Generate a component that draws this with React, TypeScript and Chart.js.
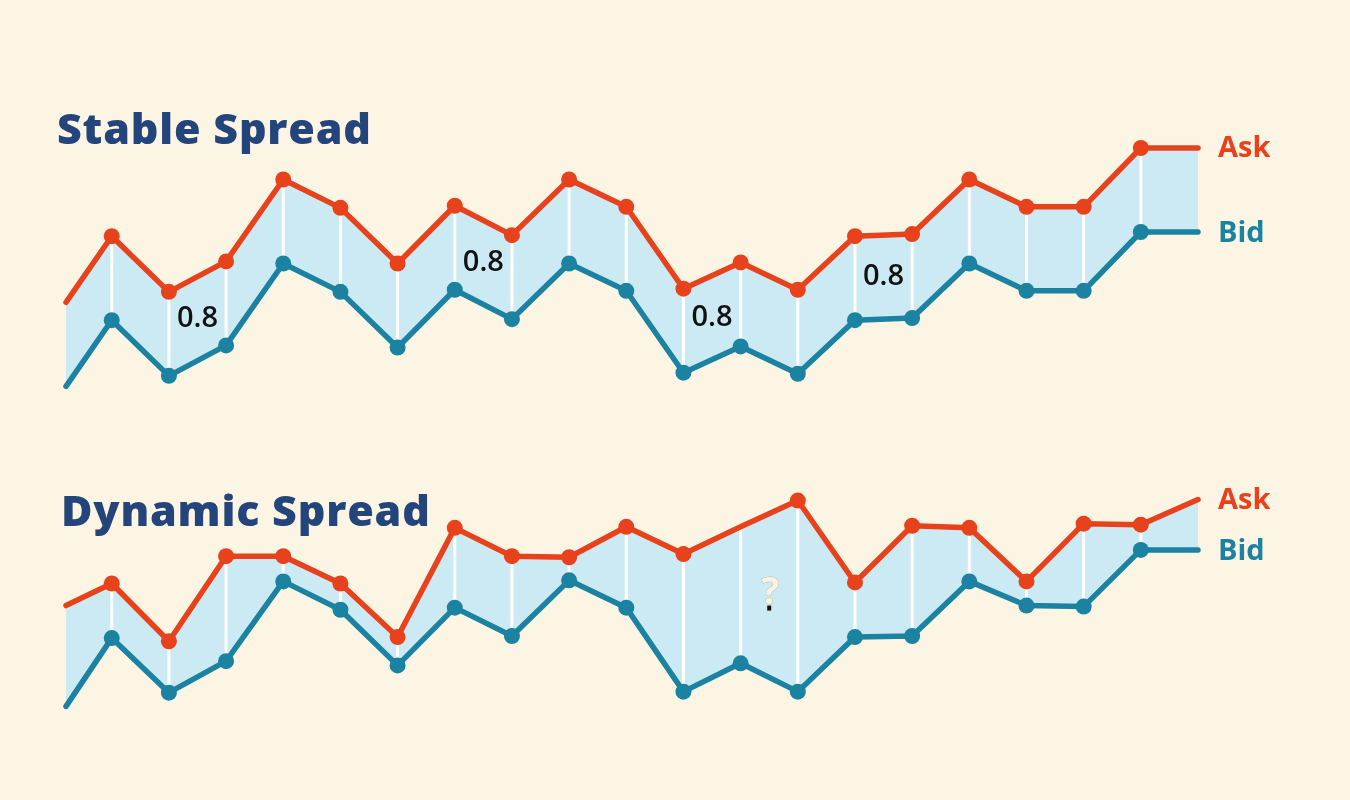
import React, { useEffect, useRef } from "react";
import { Chart, registerables } from "chart.js";

Chart.register(...registerables);

// time steps (first point is partially visible at the left edge)
const times = [0.2, 1, 2, 3, 4, 5, 6, 7, 8, 9, 10, 11, 12, 13, 14, 15, 16, 17, 18, 19, 20];

// Stable spread prices
const stableAsk = [0.93, 1.56, 1.03, 1.32, 2.1, 1.83, 1.3, 1.85, 1.57, 2.1, 1.84, 1.06, 1.31, 1.05, 1.56, 1.58, 2.1, 1.84, 1.84, 2.4, 2.4];
const stableBid = [0.13, 0.76, 0.23, 0.52, 1.3, 1.03, 0.5, 1.05, 0.77, 1.3, 1.04, 0.26, 0.51, 0.25, 0.76, 0.78, 1.3, 1.04, 1.04, 1.6, 1.6];

// Dynamic spread prices
const dynamicAsk = [1.09, 1.3, 0.75, 1.56, 1.56, 1.3, 0.79, 1.83, 1.56, 1.55, 1.84, 1.58, 1.84, 2.09, 1.31, 1.85, 1.83, 1.32, 1.87, 1.86, 2.1];
const dynamicBid = [0.13, 0.78, 0.26, 0.56, 1.32, 1.05, 0.52, 1.07, 0.8, 1.33, 1.07, 0.27, 0.54, 0.27, 0.79, 0.8, 1.32, 1.09, 1.08, 1.62, 1.62];

// spread annotations (position along time axis, text)
const stableNoteAt = [2.5, 7.5, 11.5, 14.5];
const stableNoteText = ["0.8", "0.8", "0.8", "0.8"];
const dynamicNoteAt = [12.5];
const dynamicNoteText = ["?"];

// indices of ask points drawn without a marker
const dynamicAskNoMarker = [12];

const seriesNames = ["Ask", "Bid"];
const titles = ["Stable Spread", "Dynamic Spread"];

const BG = "#fdf5e4";
const ASK = "#e8421d";
const BID = "#1b82a1";
const FILL = "#cceaf3";
const TITLE = "#23457c";

function interp(arr: number[], p: number) {
  for (let i = 0; i < times.length - 1; i++) {
    if (p >= times[i] && p <= times[i + 1]) {
      const f = (p - times[i]) / (times[i + 1] - times[i]);
      return arr[i] + (arr[i + 1] - arr[i]) * f;
    }
  }
  return arr[arr.length - 1];
}

type Props = {
  top: number;
  height: number;
  padTop: number;
  padBottom: number;
  ask: number[];
  bid: number[];
  noAskMarker: number[];
  noteAt: number[];
  noteText: string[];
  question?: boolean;
};

function SpreadChart(props: Props) {
  const ref = useRef<HTMLCanvasElement>(null);
  useEffect(() => {
    const { ask, bid, noAskMarker, noteAt, noteText, question } = props;
    const last = times.length - 1;
    const overlay = {
      id: "overlay",
      beforeDatasetsDraw(chart: any) {
        const { ctx } = chart;
        const x = chart.scales.x;
        const y = chart.scales.y;
        ctx.save();
        ctx.strokeStyle = "#ffffff";
        ctx.lineWidth = 3;
        for (let i = 1; i < last; i++) {
          const px = x.getPixelForValue(times[i]);
          ctx.beginPath();
          ctx.moveTo(px, y.getPixelForValue(ask[i]));
          ctx.lineTo(px, y.getPixelForValue(bid[i]));
          ctx.stroke();
        }
        ctx.restore();
      },
      afterDatasetsDraw(chart: any) {
        const { ctx } = chart;
        const x = chart.scales.x;
        const y = chart.scales.y;
        ctx.save();
        // series labels
        ctx.font = "700 29px 'Open Sans'";
        ctx.textAlign = "left";
        ctx.textBaseline = "middle";
        const lx = x.getPixelForValue(times[last]) + 20;
        ctx.fillStyle = ASK;
        ctx.fillText(seriesNames[0], lx, y.getPixelForValue(ask[last]) + 1);
        ctx.fillStyle = BID;
        ctx.fillText(seriesNames[1], lx, y.getPixelForValue(bid[last]) + 2);
        // spread notes
        noteAt.forEach((p, k) => {
          const px = x.getPixelForValue(p);
          const py = y.getPixelForValue((interp(ask, p) + interp(bid, p)) / 2);
          if (question) {
            ctx.font = "700 38px 'Open Sans'";
            ctx.textAlign = "center";
            ctx.textBaseline = "middle";
            ctx.fillStyle = "#fbf3df";
            ctx.strokeStyle = "rgba(150,140,120,0.45)";
            ctx.lineWidth = 1;
            ctx.strokeText(noteText[k], px + 1, py - 2);
            ctx.fillText(noteText[k], px + 1, py - 2);
            ctx.fillStyle = "#111111";
            ctx.fillRect(px - 2, py + 10, 4, 5);
          } else {
            ctx.font = "600 29px 'Open Sans'";
            ctx.textAlign = "center";
            ctx.textBaseline = "middle";
            ctx.fillStyle = "#111111";
            ctx.fillText(noteText[k], px, py);
          }
        });
        ctx.restore();
      },
    };
    const radius = (hidden: number[]) => (c: any) =>
      c.dataIndex === 0 || c.dataIndex === last || hidden.includes(c.dataIndex) ? 0 : 8;
    const chart = new Chart(ref.current as HTMLCanvasElement, {
      type: "line",
      data: {
        datasets: [
          {
            label: seriesNames[0],
            data: times.map((t, i) => ({ x: t, y: ask[i] })),
            borderColor: ASK,
            backgroundColor: FILL,
            fill: "+1",
            pointBackgroundColor: ASK,
            pointBorderColor: ASK,
            pointBorderWidth: 0,
            pointRadius: radius(noAskMarker),
            borderWidth: 5.5,
            tension: 0,
            borderCapStyle: "round",
            borderJoinStyle: "round",
            clip: false,
          } as any,
          {
            label: seriesNames[1],
            data: times.map((t, i) => ({ x: t, y: bid[i] })),
            borderColor: BID,
            backgroundColor: FILL,
            fill: false,
            pointBackgroundColor: BID,
            pointBorderColor: BID,
            pointBorderWidth: 0,
            pointRadius: radius([]),
            borderWidth: 5.5,
            tension: 0,
            borderCapStyle: "round",
            borderJoinStyle: "round",
            clip: false,
          } as any,
        ],
      },
      options: {
        animation: false,
        responsive: false,
        events: [],
        layout: { padding: { left: 66, right: 152, top: props.padTop, bottom: props.padBottom } },
        scales: {
          x: { type: "linear", min: 0.2, max: 20, display: false },
          y: { min: 0, max: 3, display: false },
        },
        plugins: {
          legend: { display: false },
          tooltip: { enabled: false },
          filler: { drawTime: "beforeDatasetsDraw" },
        } as any,
      },
      plugins: [overlay],
    });
    return () => chart.destroy();
  }, []);
  return (
    <canvas
      ref={ref}
      width={1350}
      height={props.height}
      style={{ position: "absolute", left: 0, top: props.top, width: 1350, height: props.height }}
    />
  );
}

const titleStyle: React.CSSProperties = {
  position: "absolute",
  fontFamily: "'Open Sans', sans-serif",
  fontWeight: 800,
  fontSize: 43,
  lineHeight: "43px",
  letterSpacing: "0.8px",
  color: TITLE,
  whiteSpace: "nowrap",
};

export default function App() {
  return (
    <div style={{ position: "absolute", left: 0, top: 0, width: 1350, height: 800, background: BG, overflow: "hidden" }}>
      <SpreadChart
        top={0}
        height={420}
        padTop={85}
        padBottom={20}
        ask={stableAsk}
        bid={stableBid}
        noAskMarker={[]}
        noteAt={stableNoteAt}
        noteText={stableNoteText}
      />
      <SpreadChart
        top={400}
        height={400}
        padTop={5}
        padBottom={80}
        ask={dynamicAsk}
        bid={dynamicBid}
        noAskMarker={dynamicAskNoMarker}
        noteAt={dynamicNoteAt}
        noteText={dynamicNoteText}
        question
      />
      <div style={{ ...titleStyle, left: 57, top: 106 }}>{titles[0]}</div>
      <div style={{ ...titleStyle, left: 61, top: 488 }}>{titles[1]}</div>
    </div>
  );
}
